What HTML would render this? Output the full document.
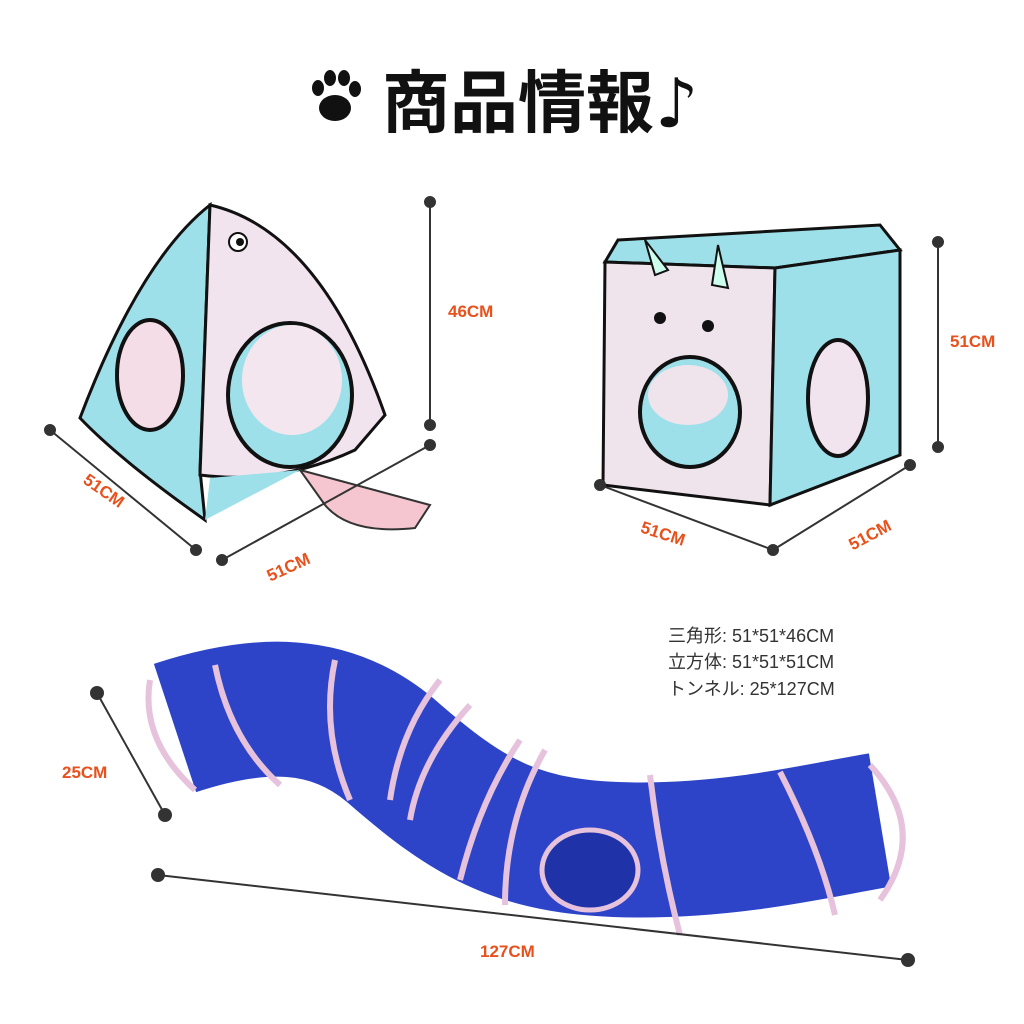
<!DOCTYPE html>
<html><head><meta charset="utf-8"><style>
html,body{margin:0;padding:0;background:#fff;}
svg{display:block}
.o{font-family:"Liberation Sans",sans-serif;font-weight:bold;fill:#e8501c;font-size:17px;}
.s{font-family:"Liberation Sans","Noto Sans CJK JP",sans-serif;fill:#333;font-size:18px;}
</style></head><body>
<svg width="1024" height="1024" viewBox="0 0 1024 1024">
<!-- title -->
<g fill="#111">
<ellipse cx="335" cy="108" rx="16" ry="13"/>
<ellipse cx="318" cy="88" rx="6" ry="8"/>
<ellipse cx="330" cy="78" rx="6" ry="8"/>
<ellipse cx="344" cy="78" rx="6" ry="8"/>
<ellipse cx="355" cy="89" rx="6" ry="8"/>
</g>
<text x="382" y="127" font-family="Liberation Sans,'Noto Sans CJK JP',sans-serif" font-weight="bold" font-size="68" fill="#111">商品情報</text>
<text x="655" y="127" font-family="DejaVu Sans,sans-serif" font-weight="bold" font-size="68" fill="#111">♪</text>

<!-- tent -->
<path d="M80,418 Q140,260 210,205 L200,470 L205,520 Q120,460 80,418Z" fill="#9ee0ea" stroke="#111" stroke-width="3"/>
<path d="M210,205 Q320,230 385,415 L355,450 Q280,485 200,475 Z" fill="#f1e4ef" stroke="#111" stroke-width="3"/>
<path d="M205,520 L210,478 L300,470 Z" fill="#9ee0ea"/>
<circle cx="238" cy="242" r="9" fill="#fff" stroke="#111" stroke-width="2"/><circle cx="240" cy="242" r="4" fill="#111"/>
<ellipse cx="290" cy="395" rx="62" ry="72" fill="#9ee0ea" stroke="#111" stroke-width="4"/>
<ellipse cx="292" cy="380" rx="50" ry="55" fill="#f3e6ee"/>
<ellipse cx="150" cy="375" rx="33" ry="55" fill="#f5dde8" stroke="#111" stroke-width="4"/>
<path d="M300,470 L430,505 L415,528 Q350,535 325,505Z" fill="#f5c6cf" stroke="#333" stroke-width="2"/>
<!-- tent dims -->
<g stroke="#333" stroke-width="2" fill="#333">
<line x1="430" y1="202" x2="430" y2="425"/><circle cx="430" cy="202" r="5"/><circle cx="430" cy="425" r="5"/>
<line x1="50" y1="430" x2="196" y2="550"/><circle cx="50" cy="430" r="5"/><circle cx="196" cy="550" r="5"/>
<line x1="222" y1="560" x2="430" y2="445"/><circle cx="222" cy="560" r="5"/><circle cx="430" cy="445" r="5"/>
</g>
<text class="o" x="448" y="317">46CM</text>
<text class="o" x="78" y="495" transform="rotate(35 100 495)">51CM</text>
<text class="o" x="265" y="572" transform="rotate(-25 290 565)">51CM</text>

<!-- cube -->
<path d="M618,240 L880,225 L900,250 L775,268 L605,262Z" fill="#9ee0ea" stroke="#111" stroke-width="3"/>
<path d="M605,262 L775,268 L770,505 L603,485 Z" fill="#efe3ec" stroke="#111" stroke-width="3"/>
<path d="M775,268 L900,250 L900,455 L770,505 Z" fill="#9ee0ea" stroke="#111" stroke-width="3"/>
<path d="M645,240 L655,275 L668,270Z M718,245 L712,285 L728,288Z" fill="#cfe" stroke="#111" stroke-width="2"/>
<circle cx="660" cy="318" r="6" fill="#111"/><circle cx="708" cy="326" r="6" fill="#111"/>
<ellipse cx="690" cy="412" rx="50" ry="55" fill="#9ee0ea" stroke="#111" stroke-width="4"/>
<ellipse cx="688" cy="395" rx="40" ry="30" fill="#efe3ec"/>
<ellipse cx="838" cy="398" rx="30" ry="58" fill="#f1e4ef" stroke="#111" stroke-width="4"/>
<g stroke="#333" stroke-width="2" fill="#333">
<line x1="938" y1="242" x2="938" y2="447"/><circle cx="938" cy="242" r="5"/><circle cx="938" cy="447" r="5"/>
<line x1="600" y1="485" x2="773" y2="550"/><circle cx="600" cy="485" r="5"/><circle cx="773" cy="550" r="5"/>
<line x1="773" y1="550" x2="910" y2="465"/><circle cx="910" cy="465" r="5"/>
</g>
<text class="o" x="950" y="347">51CM</text>
<text class="o" x="640" y="540" transform="rotate(18 665 535)">51CM</text>
<text class="o" x="845" y="540" transform="rotate(-28 870 530)">51CM</text>

<!-- specs -->
<text class="s" x="668" y="642">三角形: 51*51*46CM</text>
<text class="s" x="668" y="668">立方体: 51*51*51CM</text>
<text class="s" x="668" y="695">トンネル: 25*127CM</text>

<!-- tunnel -->
<path d="M175,728 C260,700 330,700 390,750 C470,820 520,850 640,850 C740,850 820,830 880,820" fill="none" stroke="#2e44c8" stroke-width="135"/>
<g stroke="#e6c2dc" stroke-width="6" fill="none">
<path d="M150,680 Q140,740 195,790"/>
<path d="M215,665 Q230,740 280,785"/>
<path d="M335,660 Q320,730 350,800"/>
<path d="M440,680 Q400,730 390,800"/>
<path d="M470,705 Q420,760 410,820"/>
<path d="M520,740 Q480,800 460,880"/>
<path d="M545,750 Q505,820 505,905"/>
<path d="M650,775 Q660,860 680,935"/>
<path d="M780,772 Q820,850 835,915"/>
<path d="M870,765 Q930,830 880,900"/>
</g>
<ellipse cx="590" cy="870" rx="48" ry="40" fill="#1f32a8" stroke="#e6c2dc" stroke-width="5"/>
<g stroke="#333" stroke-width="2" fill="#333">
<line x1="97" y1="693" x2="165" y2="815"/><circle cx="97" cy="693" r="6"/><circle cx="165" cy="815" r="6"/>
<line x1="158" y1="875" x2="908" y2="960"/><circle cx="158" cy="875" r="6"/><circle cx="908" cy="960" r="6"/>
</g>
<text class="o" x="62" y="778">25CM</text>
<text class="o" x="480" y="957">127CM</text>
</svg>
</body></html>
